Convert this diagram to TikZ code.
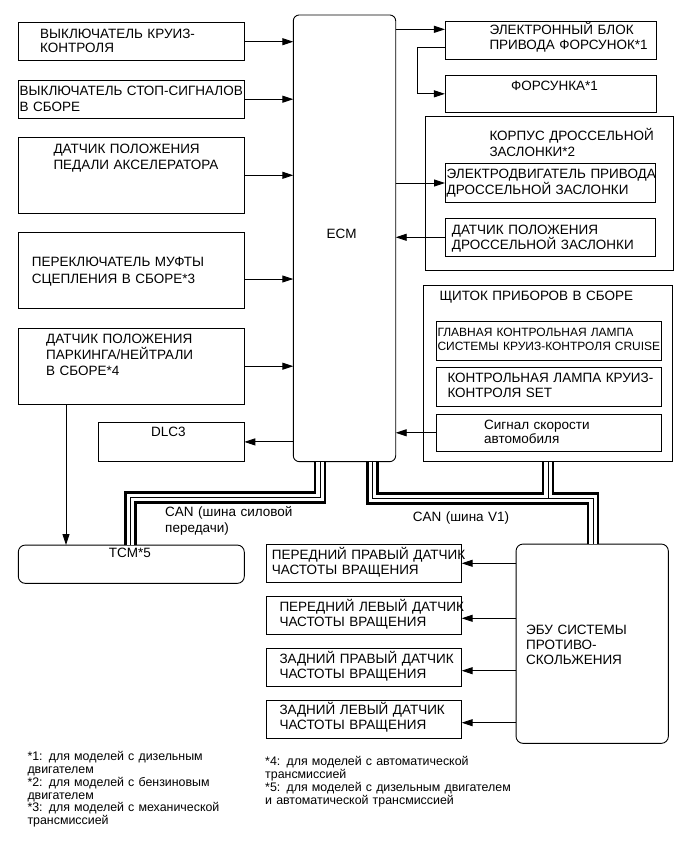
\documentclass[tikz,border=0pt]{standalone}
\usepackage{fontspec}
\setmainfont{Liberation Sans}
\usetikzlibrary{arrows.meta, positioning, calc}

\begin{document}
\begin{tikzpicture}[x=1pt, y=-1pt,
        box/.style={draw, line width=0.9pt, inner sep=0pt, outer sep=0pt},
        rbox/.style={box, rounded corners=7pt},
        lbl/.style={anchor=base west, inner sep=0pt, align=left, text width=250pt, font=\fontsize{13.5}{15.5}\selectfont},
        sml/.style={lbl, font=\fontsize{12}{14}\selectfont},
        note/.style={lbl, text width=320pt, font=\fontsize{12.4}{12.8}\selectfont},
        arr/.style={-{Triangle[length=11pt,width=7pt]}, line width=0.9pt},
        busa/.style={line width=12.5pt},
        busb/.style={line width=7.5pt, white},
        busc/.style={line width=1pt}]

        \path[use as bounding box, fill=white] (0,0) rectangle (691,855);

        \node[rbox, minimum width=102.4pt, minimum height=446.7pt, rounded corners=6pt] (ecm) at (344.5,238.3) {};
        \node[lbl, anchor=base, text width=, align=center] (ecml) at (341.7,238.1) {ECM};

        \node[box, minimum width=226pt, minimum height=38pt] (krz) at (131.3,41.7) {};
        \node[lbl] (krzl) at (40,38.9) {ВЫКЛЮЧАТЕЛЬ КРУИЗ-\\[-2pt]КОНТРОЛЯ};
        \node[box, minimum width=226pt, minimum height=38.3pt] (stp) at (131.3,99.2) {};
        \node[lbl] (stpl) at (19.5,95) {ВЫКЛЮЧАТЕЛЬ СТОП-СИГНАЛОВ\\[1pt]В СБОРЕ};
        \node[box, minimum width=226pt, minimum height=76pt] (ped) at (131.3,175.3) {};
        \node[lbl] (pedl) at (53.3,153.3) {ДАТЧИК ПОЛОЖЕНИЯ\\[1pt]ПЕДАЛИ АКСЕЛЕРАТОРА};
        \node[box, minimum width=226pt, minimum height=75.6pt] (muf) at (131.3,270.5) {};
        \node[lbl] (mufl) at (31.7,266.7) {ПЕРЕКЛЮЧАТЕЛЬ МУФТЫ\\[1pt]СЦЕПЛЕНИЯ В СБОРЕ*3};
        \node[box, minimum width=226pt, minimum height=75.7pt] (prk) at (131.3,366.2) {};
        \node[lbl] (prkl) at (46,343.3) {ДАТЧИК ПОЛОЖЕНИЯ\\[0.5pt]ПАРКИНГА/НЕЙТРАЛИ\\[0.5pt]В СБОРЕ*4};
        \node[box, minimum width=146pt, minimum height=38.3pt] (dlc) at (171.3,441.9) {};
        \node[lbl, anchor=base, text width=, align=center] (dlcl) at (168.3,436.7) {DLC3};
        \node[rbox, minimum width=226pt, minimum height=38.3pt] (tcm) at (131.3,564.2) {};
        \node[lbl, anchor=base, text width=, align=center] (tcml) at (130,557.8) {TCM*5};

        \node[box, minimum width=211.7pt, minimum height=37.6pt] (ebu) at (550.8,40.5) {};
        \node[lbl] (ebul) at (489.3,34.3) {ЭЛЕКТРОННЫЙ БЛОК\\ПРИВОДА ФОРСУНОК*1};
        \node[box, minimum width=211.7pt, minimum height=37.7pt] (frs) at (550.8,93.8) {};
        \node[lbl, anchor=base, text width=, align=center] (frsl) at (554.5,90.7) {ФОРСУНКА*1};
        \node[box, minimum width=248.3pt, minimum height=154pt] (thr) at (549.2,193) {};
        \node[lbl] (thrl) at (489.3,140) {КОРПУС ДРОССЕЛЬНОЙ\\[1pt]ЗАСЛОНКИ*2};
        \node[box, minimum width=210pt, minimum height=39.4pt] (mot) at (550,183) {};
        \node[lbl] (motl) at (446.5,178.3) {ЭЛЕКТРОДВИГАТЕЛЬ ПРИВОДА\\[0.5pt]ДРОССЕЛЬНОЙ ЗАСЛОНКИ};
        \node[box, minimum width=209.3pt, minimum height=38.7pt] (tps) at (550.3,237.3) {};
        \node[lbl] (tpsl) at (451.7,234.3) {ДАТЧИК ПОЛОЖЕНИЯ\\ДРОССЕЛЬНОЙ ЗАСЛОНКИ};
        \node[box, minimum width=249.4pt, minimum height=176.7pt] (clu) at (548,373.3) {};
        \node[lbl] (clul) at (439.3,300) {ЩИТОК ПРИБОРОВ В СБОРЕ};
        \node[box, minimum width=225.7pt, minimum height=38.3pt] (crs) at (548.8,340.8) {};
        \node[sml] (crsl) at (437.3,336.7) {ГЛАВНАЯ КОНТРОЛЬНАЯ ЛАМПА\\СИСТЕМЫ КРУИЗ-КОНТРОЛЯ CRUISE};
        \node[box, minimum width=225.7pt, minimum height=39.4pt] (lmp) at (548.8,387) {};
        \node[lbl] (lmpl) at (447.3,382.3) {КОНТРОЛЬНАЯ ЛАМПА КРУИЗ-\\[-0.5pt]КОНТРОЛЯ SET};
        \node[box, minimum width=225.7pt, minimum height=37.7pt] (spd) at (548.8,432.8) {};
        \node[lbl] (spdl) at (484,429) {Сигнал скорости\\[-1pt]автомобиля};

        \node[rbox, minimum width=152.3pt, minimum height=199.3pt] (abs) at (592.2,643.7) {};
        \node[lbl] (absl) at (526,634.9) {ЭБУ СИСТЕМЫ\\[-0.5pt]ПРОТИВО-\\[-0.5pt]СКОЛЬЖЕНИЯ};
        \node[box, minimum width=195.7pt, minimum height=38.7pt] (sfr) at (363.8,563.3) {};
        \node[lbl] (sfrl) at (271.7,559.9) {ПЕРЕДНИЙ ПРАВЫЙ ДАТЧИК\\[-1.2pt]ЧАСТОТЫ ВРАЩЕНИЯ};
        \node[box, minimum width=195.7pt, minimum height=37.3pt] (sfl) at (363.8,615.3) {};
        \node[lbl] (sfll) at (279.3,611.5) {ПЕРЕДНИЙ ЛЕВЫЙ ДАТЧИК\\[-0.5pt]ЧАСТОТЫ ВРАЩЕНИЯ};
        \node[box, minimum width=195.7pt, minimum height=37.7pt] (srr) at (363.8,667.2) {};
        \node[lbl] (srrl) at (279.3,663.2) {ЗАДНИЙ ПРАВЫЙ ДАТЧИК\\[-0.5pt]ЧАСТОТЫ ВРАЩЕНИЯ};
        \node[box, minimum width=195.7pt, minimum height=38.3pt] (srl) at (363.8,719.2) {};
        \node[lbl] (srll) at (279.3,714.9) {ЗАДНИЙ ЛЕВЫЙ ДАТЧИК\\[-0.5pt]ЧАСТОТЫ ВРАЩЕНИЯ};

        \draw[arr] (krz.east) -- (krz.east -| ecm.west);
        \draw[arr] (stp.east) -- (stp.east -| ecm.west);
        \draw[arr] (ped.east) -- (ped.east -| ecm.west);
        \coordinate (mufa) at ($(muf.east)+(0,8.5)$);
        \draw[arr] (mufa) -- (mufa -| ecm.west);
        \draw[arr] (prk.east) -- (prk.east -| ecm.west);
        \draw[arr] (ecm.west |- dlc.east) -- (dlc.east);
        \draw[arr] ([xshift=-65.3pt]prk.south) -- ([xshift=-65.3pt]tcm.north);

        \coordinate (ebua) at ($(ebu.west)+(0,-11.2)$);
        \draw[arr] (ebua -| ecm.east) -- (ebua);
        \draw[arr] ($(ebu.west)+(0,7.2)$) -- ++(-27.3,0) |- (frs.west);
        \draw[arr] (mot.west -| ecm.east) -- (mot.west);
        \draw[arr] (tps.west) -- (tps.west -| ecm.east);
        \draw[arr] (spd.west) -- (spd.west -| ecm.east);

        \draw[arr] (abs.west |- sfr.east) -- (sfr.east);
        \coordinate (sfla) at ($(sfl.east)+(0,3)$);
        \draw[arr] (sfla -| abs.west) -- (sfla);
        \coordinate (srra) at ($(srr.east)+(0,3.5)$);
        \draw[arr] (srra -| abs.west) -- (srra);
        \coordinate (srla) at ($(srl.east)+(0,3.5)$);
        \draw[arr] (srla -| abs.west) -- (srla);

        \coordinate (pt1) at ($(ecm.south)+(-24.5,0.5)$);
        \coordinate (pt2) at ($(tcm.north)+(-0.8,-0.5)$);
        \coordinate (v1a) at ($(ecm.south)+(28,0.5)$);
        \coordinate (v1b) at ($(abs.north)+(0.8,-0.5)$);
        \coordinate (v1c) at ($(clu.south)+(0,0.5)$);
        \draw[busa] (pt1) -- ++(0,35.3) -| (pt2);
        \draw[busa] (v1a) -- ++(0,36.3) -| (v1b);
        \draw[busa] (v1c) -- ++(0,36.3);
        \draw[busb] (pt1) -- ++(0,35.3) -| (pt2);
        \draw[busb] (v1a) -- ++(0,36.3) -| (v1b);
        \draw[busb] (v1c) -- ++(0,36.3);
        \draw[busc] (pt1) -- ++(0,35.3) -| (pt2);
        \draw[busc] (v1a) -- ++(0,36.3) -| (v1b);
        \draw[busc] (v1c) -- ++(0,36.3);

        \node[lbl] (ptl) at (165,516.7) {CAN (шина силовой\\[0.5pt]передачи)};
        \node[lbl] (v1l) at (412.7,521.7) {CAN (шина V1)};

        \node[note] (fnl) at (27.3,760.7) {*1: для моделей с дизельным\\двигателем\\{}*2: для моделей с бензиновым\\двигателем\\{}*3: для моделей с механической\\трансмиссией};
        \node[note] (fnr) at (265,765.7) {*4: для моделей с автоматической\\трансмиссией\\{}*5: для моделей с дизельным двигателем\\и автоматической трансмиссией};
\end{tikzpicture}
\end{document}
